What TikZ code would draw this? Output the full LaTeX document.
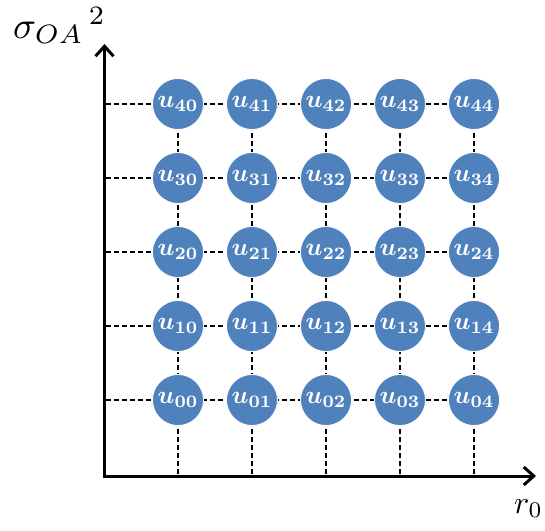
\documentclass[tikz,border=0pt]{standalone}
\usepackage{bm}
\usepackage{graphicx}
\usetikzlibrary{arrows.meta}
\definecolor{nodeblue}{RGB}{79,129,189}
\newcommand{\ulab}[1]{\scalebox{2.5}{$\bm{u}_{\mathbf{#1}}$}}
\begin{document}
\begin{tikzpicture}[x=1pt,y=-1pt,
  unode/.style={circle,fill=nodeblue,draw=white,line width=0.8pt,minimum size=51pt,inner sep=0pt,text=white,font=\normalsize},
  gridline/.style={draw=black,line width=1.6pt,dash pattern=on 5pt off 3pt},
  axis/.style={draw=black,line width=3pt,-{Straight Barb[length=10pt,width=18pt,line width=3pt]}},
  axlabel/.style={font=\normalsize,inner sep=0pt}]
\useasboundingbox (0,0) rectangle (545,530);
\coordinate (ytip) at (104.5,44);
\coordinate (xtip) at (536,476);
\coordinate (ybot) at (104.5,477.5);
\coordinate (xleft) at (103,476);
% grid positions
\foreach \i/\yy in {0/400,1/326,2/252,3/178,4/104}{
  \coordinate (y\i) at (106,\yy);
  \foreach \j/\xx in {0/178,1/252,2/326,3/400,4/474}{
    \coordinate (c\i\j) at (\xx,\yy);
  }
}
\foreach \j/\xx in {0/178,1/252,2/326,3/400,4/474}{
  \coordinate (x\j) at (\xx,474);
}
% dashed lines behind
\foreach \i in {0,...,4}{
  \draw[gridline] (y\i) -- (c\i4);
}
\foreach \j in {0,...,4}{
  \draw[gridline] (x\j) -- (c4\j);
}
% nodes
\foreach \i in {0,...,4}{
  \foreach \j in {0,...,4}{
    \node[unode] (u\i\j) at (c\i\j) {\ulab{\i\j}};
  }
}
% axes
\draw[axis] (ybot) -- (ytip);
\draw[axis] (xleft) -- (xtip);
\node[axlabel,anchor=base west] (ylab) at (13,38) {\scalebox{3.8}{$\sigma_{OA}{}^{\,2}$}};
\node[axlabel,anchor=base west] (xlab) at (514,513) {\scalebox{3.2}{$r_0$}};
\end{tikzpicture}
\end{document}
